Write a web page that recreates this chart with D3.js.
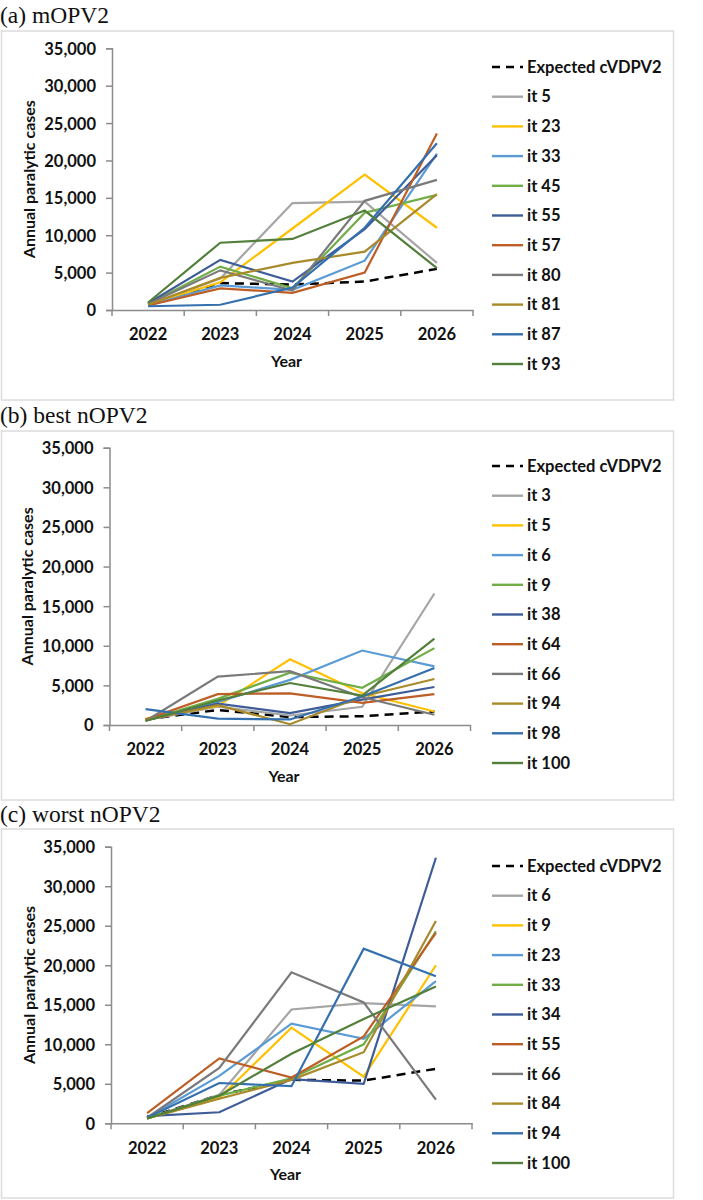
<!DOCTYPE html>
<html><head><meta charset="utf-8">
<script src="https://cdn.jsdelivr.net/npm/d3@7"></script>
<style>
html,body{margin:0;padding:0;background:#fff;}
svg{display:block;}
</style></head>
<body>
<svg id="chart" width="703" height="1200"></svg>
<script>
// ---- shared categories / ticks ----
const years = ["2022", "2023", "2024", "2025", "2026"];
const yTicks = [0, 5000, 10000, 15000, 20000, 25000, 30000, 35000];
const seriesColors = ["#A5A5A5", "#FFC000", "#5B9BD5", "#70AD47", "#3E5C97",
                      "#BD5E26", "#7A7A7A", "#A88A2A", "#3470AE", "#52803B"];

// ---- panel (a) mOPV2 ----
const aTitle = "(a) mOPV2";
const aExpected = [700, 3600, 3400, 3800, 5500];
const aLabels = ["it 5", "it 23", "it 33", "it 45", "it 55", "it 57", "it 80", "it 81", "it 87", "it 93"];
const aIt5  = [700, 4200, 14300, 14500, 6300];
const aIt23 = [700, 3700, 10900, 18100, 11000];
const aIt33 = [600, 3300, 2700, 6600, 20900];
const aIt45 = [800, 5800, 2900, 13000, 15400];
const aIt55 = [900, 6700, 3800, 10800, 20700];
const aIt57 = [600, 2900, 2300, 5000, 23600];
const aIt80 = [800, 5300, 2600, 14600, 17400];
const aIt81 = [700, 4300, 6300, 7800, 15500];
const aIt87 = [500, 700, 3000, 11000, 22300];
const aIt93 = [1000, 9000, 9500, 13300, 5600];

// ---- panel (b) best nOPV2 ----
const bTitle = "(b) best nOPV2";
const bExpected = [700, 1900, 1000, 1100, 1700];
const bLabels = ["it 3", "it 5", "it 6", "it 9", "it 38", "it 64", "it 66", "it 94", "it 98", "it 100"];
const bIt3   = [600, 2300, 1200, 2300, 16600];
const bIt5   = [800, 2400, 8300, 4000, 1700];
const bIt6   = [700, 2900, 5700, 9400, 7400];
const bIt9   = [600, 3300, 6600, 4700, 9700];
const bIt38  = [600, 2700, 1500, 3200, 4800];
const bIt64  = [700, 3900, 4000, 2800, 3900];
const bIt66  = [500, 6100, 6800, 3500, 1300];
const bIt94  = [600, 2500, 100, 3600, 5800];
const bIt98  = [2000, 800, 700, 3600, 7200];
const bIt100 = [500, 3100, 5300, 3700, 10900];

// ---- panel (c) worst nOPV2 ----
const cTitle = "(c) worst nOPV2";
const cExpected = [700, 3600, 5500, 5400, 6900];
const cLabels = ["it 6", "it 9", "it 23", "it 33", "it 34", "it 55", "it 66", "it 84", "it 94", "it 100"];
const cIt6   = [600, 3600, 14400, 15200, 14800];
const cIt9   = [600, 3200, 12100, 5900, 20000];
const cIt23  = [700, 6000, 12600, 10700, 18000];
const cIt33  = [600, 3500, 5700, 10000, 24300];
const cIt34  = [900, 1400, 5600, 5000, 33600];
const cIt55  = [1300, 8200, 5800, 11000, 24100];
const cIt66  = [700, 7000, 19100, 15300, 3000];
const cIt84  = [600, 3100, 5500, 9000, 25600];
const cIt94  = [700, 5100, 4700, 22100, 18600];
const cIt100 = [600, 3500, 8800, 13200, 17300];

const panels = [
  {title: aTitle, expected: aExpected, labels: aLabels,
   series: [aIt5, aIt23, aIt33, aIt45, aIt55, aIt57, aIt80, aIt81, aIt87, aIt93],
   titleY: 23, boxTop: 31, boxBottom: 400, axisX: 112, yTop: 48.3, y0: 310,
   xLabY: 340, yearY: 367, yTitleX: 29, legY: 67},
  {title: bTitle, expected: bExpected, labels: bLabels,
   series: [bIt3, bIt5, bIt6, bIt9, bIt38, bIt64, bIt66, bIt94, bIt98, bIt100],
   titleY: 423, boxTop: 431, boxBottom: 800, axisX: 109.5, yTop: 447.7, y0: 725,
   xLabY: 755, yearY: 782, yTitleX: 27, legY: 466},
  {title: cTitle, expected: cExpected, labels: cLabels,
   series: [cIt6, cIt9, cIt23, cIt33, cIt34, cIt55, cIt66, cIt84, cIt94, cIt100],
   titleY: 822, boxTop: 829, boxBottom: 1198, axisX: 111, yTop: 846.7, y0: 1123.3,
   xLabY: 1154, yearY: 1180, yTitleX: 29, legY: 866}
];

const svg = d3.select("#chart");
const sansFont = "Lato, 'Open Sans', sans-serif";
const axisColor = "#8C8C8C";

panels.forEach(p => {
  // frame
  svg.append("rect")
    .attr("x", 1.5).attr("y", p.boxTop)
    .attr("width", 672).attr("height", p.boxBottom - p.boxTop)
    .attr("fill", "none").attr("stroke", "#DCDCDC").attr("stroke-width", 1.5);
  // title
  svg.append("text")
    .attr("x", 0).attr("y", p.titleY)
    .attr("font-family", "'Liberation Serif', 'Times New Roman', serif")
    .attr("font-size", 23.5).attr("fill", "#111")
    .text(p.title);

  const x = d3.scaleBand().domain(years).range([p.axisX, p.axisX + 361]).paddingInner(0).paddingOuter(0);
  const y = d3.scaleLinear().domain([0, 35000]).range([p.y0, p.yTop]);

  // y axis
  const yAxis = d3.axisLeft(y).tickValues(yTicks).tickSize(6).tickFormat(d3.format(","));
  const gy = svg.append("g").attr("transform", `translate(${p.axisX},0)`).call(yAxis);
  gy.select(".domain").attr("stroke", axisColor).attr("stroke-width", 1.5);
  gy.selectAll(".tick line").attr("stroke", axisColor).attr("stroke-width", 1.5);
  gy.selectAll(".tick text").attr("x", -16).attr("dy", "0.36em")
    .attr("font-family", sansFont).attr("font-weight", "bold").attr("font-size", 16.5).attr("fill", "#111");

  // x axis
  const xAxis = d3.axisBottom(x).tickSize(0).tickSizeOuter(0);
  const gx = svg.append("g").attr("transform", `translate(0,${p.y0})`).call(xAxis);
  gx.select(".domain").attr("stroke", axisColor).attr("stroke-width", 1.5);
  gx.selectAll(".tick text").attr("y", 0).attr("dy", 0)
    .attr("transform", `translate(0,${p.xLabY - p.y0})`)
    .attr("font-family", sansFont).attr("font-weight", "bold").attr("font-size", 16.5).attr("fill", "#111");
  // category boundary ticks (Excel style)
  const bounds = years.map(d => x(d)).concat([x(years[years.length - 1]) + x.bandwidth()]);
  svg.append("g").selectAll("line").data(bounds).join("line")
    .attr("x1", d => d).attr("x2", d => d)
    .attr("y1", p.y0).attr("y2", p.y0 + 6)
    .attr("stroke", axisColor).attr("stroke-width", 1.5);

  // axis titles
  svg.append("text")
    .attr("x", p.axisX + 361 / 2 - 6).attr("y", p.yearY)
    .attr("text-anchor", "middle")
    .attr("font-family", sansFont).attr("font-weight", "bold").attr("font-size", 16).attr("fill", "#111")
    .text("Year");
  svg.append("text")
    .attr("transform", `translate(${p.yTitleX},${(p.y0 + p.yTop) / 2}) rotate(-90)`)
    .attr("text-anchor", "middle").attr("dy", "0.35em")
    .attr("font-family", sansFont).attr("font-weight", "bold").attr("font-size", 16).attr("fill", "#111")
    .text("Annual paralytic cases");

  const line = d3.line()
    .x((d, i) => x(years[i]) + x.bandwidth() / 2)
    .y(d => y(d));

  // expected (dashed)
  svg.append("path").datum(p.expected)
    .attr("d", line).attr("fill", "none")
    .attr("stroke", "#000").attr("stroke-width", 2.5)
    .attr("stroke-dasharray", "9,6");

  // iterations
  p.series.forEach((s, i) => {
    svg.append("path").datum(s)
      .attr("d", line).attr("fill", "none")
      .attr("stroke", seriesColors[i]).attr("stroke-width", 2.2)
      .attr("stroke-linejoin", "miter");
  });

  // legend
  const legItems = [{label: "Expected cVDPV2", color: "#000", dash: true}]
    .concat(p.labels.map((l, i) => ({label: l, color: seriesColors[i], dash: false})));
  const leg = svg.append("g");
  legItems.forEach((it, i) => {
    const ly = p.legY + i * 29.7;
    leg.append("line")
      .attr("x1", 492).attr("x2", 523)
      .attr("y1", ly).attr("y2", ly)
      .attr("stroke", it.color).attr("stroke-width", it.dash ? 2.5 : 2.4)
      .attr("stroke-dasharray", it.dash ? "8,6" : null);
    leg.append("text")
      .attr("x", 527).attr("y", ly).attr("dy", "0.35em")
      .attr("font-family", sansFont).attr("font-weight", "bold").attr("font-size", 16.5).attr("fill", "#111")
      .text(it.label);
  });
});
</script>
</body></html>
